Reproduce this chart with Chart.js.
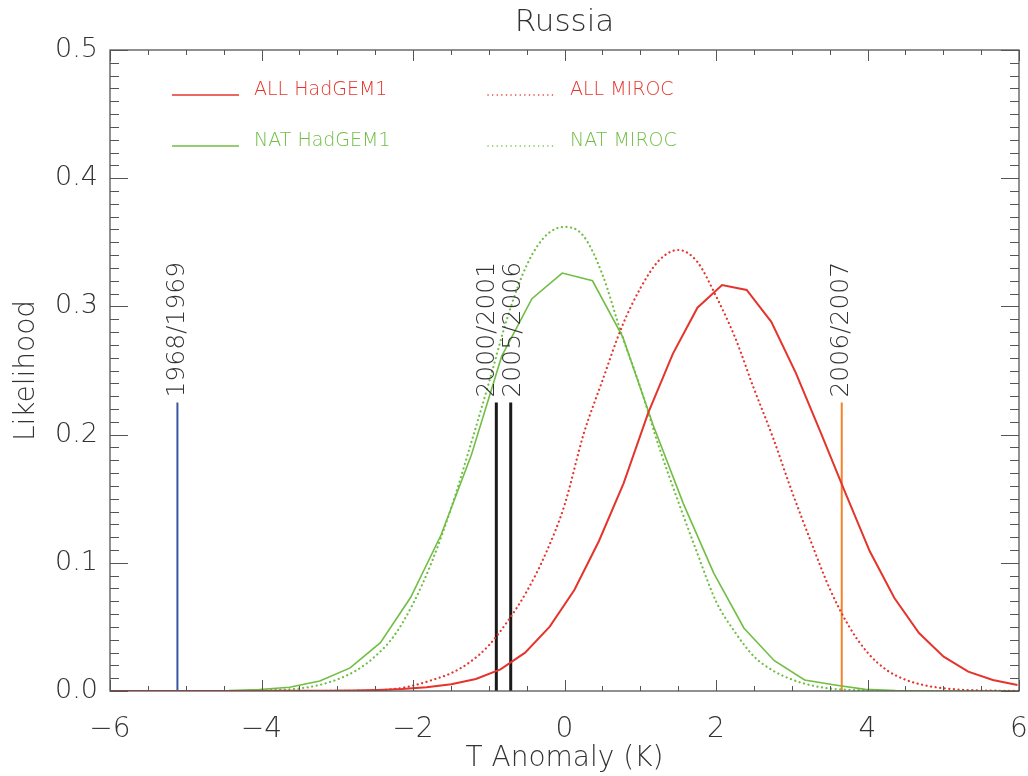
<!DOCTYPE html>
<html>
<head>
<meta charset="utf-8">
<script src="https://cdn.jsdelivr.net/npm/chart.js@4.4.0/dist/chart.umd.min.js"></script>
<style>
html, body { margin: 0; padding: 0; background: #fff; }
</style>
</head>
<body>
<canvas id="chart" width="1028" height="776"></canvas>
<script>
// Russia - likelihood of T anomaly, ALL/NAT forcing, two models

// ALL HadGEM1 (solid red)
const allHadX = [-6.045, -5.72, -5.395, -5.07, -4.745, -4.42, -4.095, -3.77, -3.445, -3.12,
  -2.795, -2.47, -2.145, -1.82, -1.495, -1.17, -0.845, -0.52, -0.195, 0.13,
  0.455, 0.78, 1.105, 1.43, 1.755, 2.08, 2.405, 2.73, 3.055, 3.38,
  3.705, 4.03, 4.355, 4.68, 5.005, 5.33, 5.655, 5.98];
const allHadY = [0, 0, 0, 0, 0, 0, 0, 0.0001, 0.0001, 0.0002,
  0.0004, 0.0008, 0.0016, 0.003, 0.0052, 0.0094, 0.0169, 0.0299, 0.0502, 0.0788,
  0.117, 0.162, 0.217, 0.263, 0.299, 0.3167, 0.3128, 0.288, 0.248, 0.202,
  0.155, 0.109, 0.0725, 0.0452, 0.0268, 0.0151, 0.0086, 0.0047];

// NAT HadGEM1 (solid green)
const natHadX = [-6.03, -5.63, -5.23, -4.83, -4.43, -4.03, -3.63, -3.23, -2.83, -2.43,
  -2.03, -1.63, -1.23, -0.83, -0.43, -0.03, 0.37, 0.77, 1.17, 1.57,
  1.97, 2.37, 2.77, 3.17, 3.57, 3.97, 4.37, 4.77, 5.17, 5.57, 5.97];
const natHadY = [0, 0, 0, 0, 0.0003, 0.0012, 0.0029, 0.0078, 0.018, 0.0377,
  0.0731, 0.1217, 0.184, 0.261, 0.306, 0.326, 0.320, 0.276, 0.2075, 0.146,
  0.092, 0.049, 0.0236, 0.0086, 0.0047, 0.0013, 0.0003, 0, 0, 0, 0];

// MIROC grid (dotted curves)
const mirocX = [-6, -5.75, -5.5, -5.25, -5, -4.75, -4.5, -4.25, -4, -3.75,
  -3.5, -3.25, -3, -2.75, -2.5, -2.25, -2, -1.75, -1.5, -1.25,
  -1, -0.75, -0.5, -0.25, 0, 0.25, 0.5, 0.75, 1, 1.25,
  1.5, 1.75, 2, 2.25, 2.5, 2.75, 3, 3.25, 3.5, 3.75,
  4, 4.25, 4.5, 4.75, 5, 5.25, 5.5, 5.75, 6];
const allMirocY = [0, 0, 0, 0, 0, 0, 0, 0, 0, 0,
  0, 0, 0.0001, 0.0002, 0.0005, 0.0015, 0.0042, 0.0085, 0.0138, 0.0225,
  0.0355, 0.0545, 0.0775, 0.107, 0.145, 0.200, 0.242, 0.283, 0.314, 0.336,
  0.344, 0.335, 0.308, 0.276, 0.236, 0.198, 0.156, 0.117, 0.080, 0.051,
  0.030, 0.0165, 0.0088, 0.0045, 0.0022, 0.0010, 0.0004, 0.0002, 0.0001];
const natMirocY = [0, 0, 0, 0, 0, 0, 0, 0, 0.0005, 0.001,
  0.002, 0.0045, 0.009, 0.016, 0.027, 0.043, 0.068, 0.101, 0.142, 0.190,
  0.240, 0.292, 0.332, 0.355, 0.362, 0.355, 0.325, 0.279, 0.237, 0.190,
  0.148, 0.108, 0.070, 0.046, 0.027, 0.016, 0.009, 0.0045, 0.002, 0.001,
  0.0004, 0, 0, 0, 0, 0, 0, 0, 0];

// observed winters
const eventLabels = ['1968/1969', '2000/2001', '2005/2006', '2006/2007'];
const eventX = [-5.11, -0.90, -0.71, 3.66];
const eventTop = [0.225, 0.225, 0.225, 0.225];
const eventColors = ['#3a55a4', '#1a1a1a', '#1a1a1a', '#f5822a'];
const eventWidths = [2, 3, 3, 2];
const labelNudge = [0, -9, 3, 0]; // px, keeps the two close labels apart

const RED = '#e4342c';
const GREEN = '#70be44';
const TEXT = '#333333';
const FAMILY = "'DejaVu Sans', sans-serif";
const WEIGHT = '200';
const DOTS = [0.1, 4.5];

function pts(xs, ys) {
    return xs.map((x, i) => ({ x: x, y: ys[i] }));
}

const datasets = [
    { label: 'ALL HadGEM1', data: pts(allHadX, allHadY), borderColor: RED, borderWidth: 2 },
    { label: 'ALL MIROC', data: pts(mirocX, allMirocY), borderColor: RED, borderWidth: 2.2,
      borderDash: DOTS, borderCapStyle: 'round', cubicInterpolationMode: 'monotone' },
    { label: 'NAT HadGEM1', data: pts(natHadX, natHadY), borderColor: GREEN, borderWidth: 1.6 },
    { label: 'NAT MIROC', data: pts(mirocX, natMirocY), borderColor: GREEN, borderWidth: 2.2,
      borderDash: DOTS, borderCapStyle: 'round', cubicInterpolationMode: 'monotone' }
];
eventLabels.forEach((lab, i) => {
    datasets.push({
        label: lab,
        data: [{ x: eventX[i], y: 0 }, { x: eventX[i], y: eventTop[i] }],
        borderColor: eventColors[i],
        borderWidth: eventWidths[i]
    });
});
datasets.forEach(d => { d.pointRadius = 0; d.fill = false; });

// frame, inward ticks, title, legend, event labels
const decorPlugin = {
    id: 'decor',
    afterDatasetsDraw(chart) {
        const ctx = chart.ctx;
        const a = chart.chartArea;
        const xs = chart.scales.x, ys = chart.scales.y;
        ctx.save();
        ctx.strokeStyle = '#555';
        ctx.lineWidth = 1.3;
        ctx.strokeRect(a.left, a.top, a.right - a.left, a.bottom - a.top);

        ctx.lineWidth = 1;
        ctx.beginPath();
        for (let i = 0; i <= 24; i++) {
            const v = -6 + i * 0.5;
            const p = Math.round(xs.getPixelForValue(v)) + 0.5;
            const len = (i % 4 === 0) ? 11 : 5;
            ctx.moveTo(p, a.bottom); ctx.lineTo(p, a.bottom - len);
            ctx.moveTo(p, a.top); ctx.lineTo(p, a.top + len);
        }
        for (let i = 0; i <= 50; i++) {
            const p = Math.round(ys.getPixelForValue(i * 0.01)) + 0.5;
            const len = (i % 10 === 0) ? 18 : 9;
            ctx.moveTo(a.left, p); ctx.lineTo(a.left + len, p);
            ctx.moveTo(a.right, p); ctx.lineTo(a.right - len, p);
        }
        ctx.stroke();

        // title
        ctx.fillStyle = TEXT;
        ctx.font = WEIGHT + ' 31px ' + FAMILY;
        ctx.textAlign = 'center';
        ctx.textBaseline = 'middle';
        ctx.fillText('Russia', (a.left + a.right) / 2, a.top - 27);

        // legend
        const legend = [
            { t: 'ALL HadGEM1', c: RED, dash: [], col: 0, row: 0 },
            { t: 'ALL MIROC', c: RED, dash: DOTS, col: 1, row: 0 },
            { t: 'NAT HadGEM1', c: GREEN, dash: [], col: 0, row: 1 },
            { t: 'NAT MIROC', c: GREEN, dash: DOTS, col: 1, row: 1 }
        ];
        ctx.font = WEIGHT + ' 19px ' + FAMILY;
        ctx.textAlign = 'left';
        legend.forEach(it => {
            const x0 = a.left + (it.col ? 378 : 62);
            const y0 = a.top + (it.row ? 96 : 45);
            ctx.strokeStyle = it.c;
            ctx.lineWidth = 1.5;
            ctx.lineCap = it.dash.length ? 'round' : 'butt';
            ctx.setLineDash(it.dash);
            ctx.beginPath();
            ctx.moveTo(x0, y0); ctx.lineTo(x0 + 67, y0);
            ctx.stroke();
            ctx.setLineDash([]);
            ctx.fillStyle = it.c;
            ctx.fillText(it.t, x0 + 82, y0 - 5);
        });

        // event labels, rotated
        ctx.fillStyle = TEXT;
        ctx.font = WEIGHT + ' 25px ' + FAMILY;
        ctx.textAlign = 'left';
        ctx.textBaseline = 'middle';
        eventLabels.forEach((lab, i) => {
            const px = xs.getPixelForValue(eventX[i]) + labelNudge[i];
            const py = ys.getPixelForValue(eventTop[i]);
            ctx.save();
            ctx.translate(px, py - 5);
            ctx.rotate(-Math.PI / 2);
            ctx.fillText(lab, 0, 0);
            ctx.restore();
        });
        ctx.restore();
    }
};

new Chart(document.getElementById('chart'), {
    type: 'line',
    data: { datasets: datasets },
    options: {
        responsive: false,
        animation: false,
        layout: { padding: { top: 50, right: 0, left: 10, bottom: 0 } },
        plugins: { legend: { display: false }, tooltip: { enabled: false } },
        scales: {
            x: {
                type: 'linear', min: -6, max: 6,
                grid: { display: false, drawTicks: false },
                border: { display: false },
                ticks: {
                    stepSize: 2, color: TEXT, padding: 22,
                    font: { family: FAMILY, size: 28, weight: WEIGHT },
                    callback: v => (v < 0 ? '\u2212' + Math.abs(v) : String(v))
                },
                title: {
                    display: true, text: 'T Anomaly (K)', color: TEXT,
                    font: { family: FAMILY, size: 28, weight: WEIGHT }, padding: { top: 0, bottom: 0 }
                },
                afterFit: s => { s.height = 85; s.paddingRight = 9; s.paddingLeft = 0; }
            },
            y: {
                min: 0, max: 0.5,
                grid: { display: false, drawTicks: false },
                border: { display: false },
                ticks: {
                    stepSize: 0.1, color: TEXT, padding: 12,
                    font: { family: FAMILY, size: 27, weight: WEIGHT },
                    callback: v => v.toFixed(1)
                },
                title: {
                    display: true, text: 'Likelihood', color: TEXT,
                    font: { family: FAMILY, size: 28, weight: WEIGHT }, padding: { top: 0, bottom: 0 }
                },
                afterFit: s => { s.width = 100; }
            }
        }
    },
    plugins: [decorPlugin]
});
</script>
</body>
</html>
